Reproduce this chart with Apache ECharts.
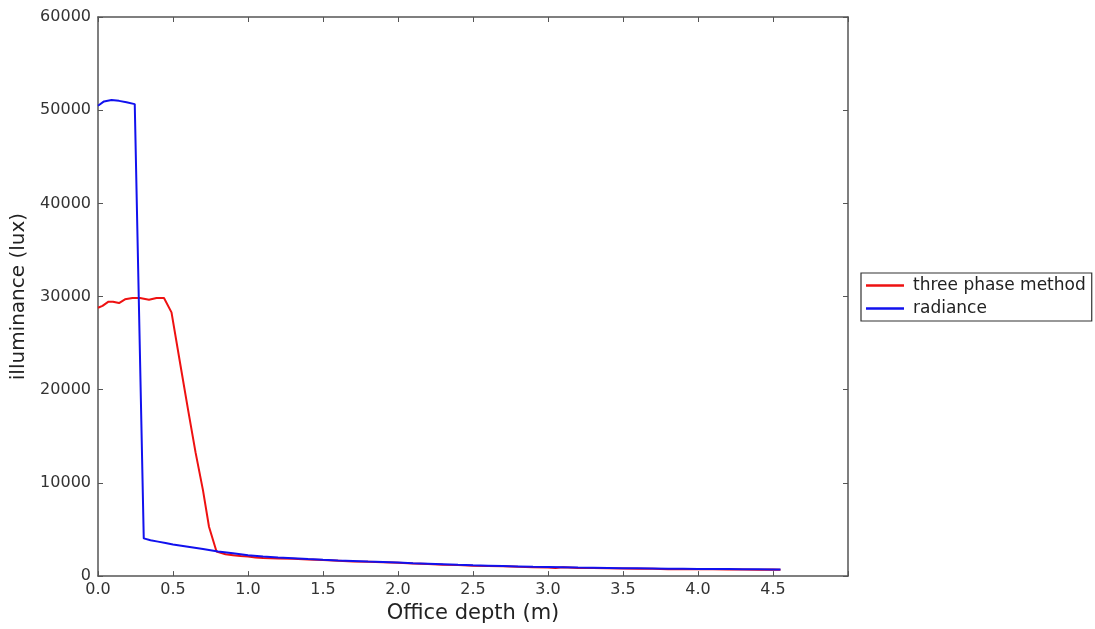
<!DOCTYPE html>
<html>
<head>
<meta charset="utf-8">
<script src="https://cdn.jsdelivr.net/npm/echarts@6/dist/echarts.min.js"></script>
<style>
html,body{margin:0;padding:0;background:#fff;}
#chart{width:1095px;height:629px;}
</style>
</head>
<body>
<div id="chart"></div>
<script>
// Data: [office depth (m), illuminance (lux)]
const threePhase = [
  [0.00, 28800], [0.03, 29000], [0.07, 29450], [0.10, 29450], [0.14, 29300],
  [0.18, 29700], [0.23, 29850], [0.28, 29850], [0.34, 29650], [0.39, 29850],
  [0.44, 29850], [0.49, 28300], [0.55, 22600], [0.60, 17900], [0.65, 13300],
  [0.70, 9200], [0.74, 5300], [0.79, 2640], [0.85, 2350], [0.90, 2250],
  [0.95, 2150], [1.00, 2100], [1.05, 2000], [1.10, 1940], [1.20, 1900],
  [1.30, 1850], [1.40, 1790], [1.50, 1720], [1.60, 1650], [1.70, 1580],
  [1.80, 1540], [1.90, 1480], [2.00, 1430], [2.10, 1350], [2.20, 1300],
  [2.30, 1230], [2.40, 1180], [2.50, 1100], [2.60, 1080], [2.70, 1050],
  [2.80, 1000], [2.90, 960], [3.00, 920], [3.05, 880], [3.10, 950],
  [3.20, 880], [3.30, 860], [3.40, 830], [3.50, 820], [3.60, 800],
  [3.70, 790], [3.80, 740], [3.90, 760], [4.00, 730], [4.10, 740],
  [4.20, 720], [4.30, 710], [4.40, 690], [4.50, 700], [4.55, 690]
];
const radiance = [
  [0.00, 50480], [0.04, 50940], [0.09, 51100], [0.14, 51000], [0.19, 50850],
  [0.245, 50650], [0.305, 4050], [0.35, 3850], [0.40, 3700], [0.45, 3550],
  [0.50, 3400], [0.60, 3150], [0.70, 2900], [0.80, 2650], [0.90, 2450],
  [1.00, 2250], [1.10, 2100], [1.20, 2000], [1.30, 1920], [1.40, 1830],
  [1.50, 1750], [1.60, 1680], [1.70, 1620], [1.80, 1560], [1.90, 1510],
  [2.00, 1460], [2.10, 1390], [2.20, 1330], [2.30, 1270], [2.40, 1210],
  [2.50, 1160], [2.60, 1120], [2.70, 1080], [2.80, 1040], [2.90, 1000],
  [3.00, 970], [3.10, 940], [3.20, 910], [3.30, 890], [3.40, 870],
  [3.50, 850], [3.60, 830], [3.70, 810], [3.80, 790], [3.90, 780],
  [4.00, 770], [4.10, 760], [4.20, 750], [4.30, 740], [4.40, 730],
  [4.50, 720], [4.55, 710]
];
const seriesNames = ['three phase method', 'radiance'];
const xTickMin = 0, xTickMax = 5, xTickStep = 0.5;
const yTickMin = 0, yTickMax = 60000, yTickStep = 10000;
const xTitle = 'Office depth (m)';
const yTitle = 'illuminance (lux)';

const FONT = 'DejaVu Sans';
const frameColor = '#555';
const chart = echarts.init(document.getElementById('chart'), null, {renderer: 'canvas'});
const tickStyle = {show: true, inside: true, length: 5, lineStyle: {color: frameColor, width: 1}};
chart.setOption({
  animation: false,
  backgroundColor: '#fff',
  grid: {left: 98, right: 247, top: 17, bottom: 51, containLabel: false},
  legend: {
    orient: 'vertical', left: 861, top: 273,
    data: seriesNames,
    icon: 'rect', itemWidth: 38, itemHeight: 2.5, itemGap: 6,
    padding: [4, 6, 4, 5],
    borderColor: '#333', borderWidth: 1.2,
    textStyle: {fontFamily: FONT, fontSize: 17, color: '#222', lineHeight: 16, padding: [0, 0, 0, 4]}
  },
  xAxis: [{
    type: 'value', min: xTickMin, max: xTickMax, interval: xTickStep,
    name: xTitle, nameLocation: 'middle', nameGap: 21,
    nameTextStyle: {fontFamily: FONT, fontSize: 21, color: '#222'},
    axisLine: {show: true, onZero: false, lineStyle: {color: frameColor, width: 1.5}},
    axisTick: tickStyle,
    splitLine: {show: false},
    axisLabel: {fontFamily: FONT, fontSize: 16, color: '#333', margin: 6,
      formatter: v => (v >= xTickMax ? '' : v.toFixed(1))}
  }, {
    type: 'value', position: 'top', min: xTickMin, max: xTickMax, interval: xTickStep,
    axisLine: {show: true, onZero: false, lineStyle: {color: frameColor, width: 1.5}},
    axisTick: tickStyle, axisLabel: {show: false}, splitLine: {show: false}
  }],
  yAxis: [{
    type: 'value', min: yTickMin, max: yTickMax, interval: yTickStep,
    name: yTitle, nameLocation: 'middle', nameGap: 66, nameRotate: 90,
    nameTextStyle: {fontFamily: FONT, fontSize: 20, color: '#222'},
    axisLine: {show: true, onZero: false, lineStyle: {color: frameColor, width: 1.5}},
    axisTick: tickStyle,
    splitLine: {show: false},
    axisLabel: {fontFamily: FONT, fontSize: 16, color: '#333', margin: 7,
      formatter: v => String(v)}
  }, {
    type: 'value', position: 'right', min: yTickMin, max: yTickMax, interval: yTickStep,
    axisLine: {show: true, onZero: false, lineStyle: {color: frameColor, width: 1.5}},
    axisTick: tickStyle, axisLabel: {show: false}, splitLine: {show: false}
  }],
  series: [{
    name: seriesNames[0], type: 'line', data: threePhase, showSymbol: false,
    lineStyle: {color: '#ee1111', width: 2}, itemStyle: {color: '#ee1111'}, z: 3
  }, {
    name: seriesNames[1], type: 'line', data: radiance, showSymbol: false,
    lineStyle: {color: '#1111ee', width: 2}, itemStyle: {color: '#1111ee'}, z: 4
  }]
});
</script>
</body>
</html>
